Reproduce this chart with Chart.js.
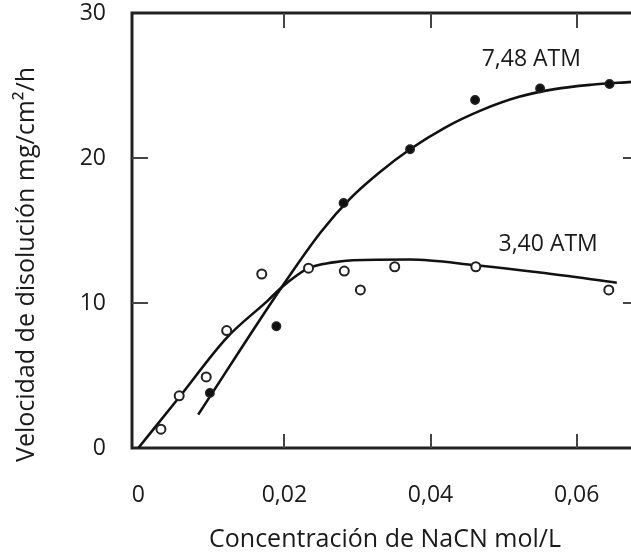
<!DOCTYPE html>
<html>
<head>
<meta charset="utf-8">
<script src="https://cdn.jsdelivr.net/npm/chart.js@4/dist/chart.umd.min.js"></script>
<style>
  html, body { margin: 0; padding: 0; background: #fff; overflow: hidden; }
  #wrap { width: 645px; height: 555px; }
</style>
</head>
<body>
<div id="wrap"><canvas id="c" width="645" height="555"></canvas></div>
<script>
// Measured points: NaCN concentration (mol/L) vs dissolution rate (mg/cm²/h)
const lowPressureX  = [0.0031, 0.0056, 0.0093, 0.0121, 0.0169, 0.0233, 0.0282, 0.0304, 0.0351, 0.0462, 0.0644];
const lowPressureY  = [1.3, 3.6, 4.9, 8.1, 12.0, 12.4, 12.2, 10.9, 12.5, 12.5, 10.9];
const highPressureX = [0.0098, 0.0189, 0.0281, 0.0372, 0.0461, 0.0550, 0.0645];
const highPressureY = [3.8, 8.4, 16.9, 20.6, 24.0, 24.8, 25.1];

// Smoothed trend curves through each series
const lowFitX  = [0, 0.0056, 0.0121, 0.0178, 0.0196, 0.0233, 0.0267, 0.0294, 0.0372, 0.0462, 0.0550, 0.0655];
const lowFitY  = [0, 3.5, 7.6, 10.2, 11.07, 12.4, 12.8, 12.95, 13.0, 12.6, 12.1, 11.4];
const highFitX = [0.0082, 0.0196, 0.0250, 0.0290, 0.0330, 0.0372, 0.0420, 0.0470, 0.0520, 0.0570, 0.0620, 0.0675];
const highFitY = [2.3, 11.07, 14.9, 17.2, 19.0, 20.6, 22.1, 23.3, 24.2, 24.75, 25.05, 25.25];

const seriesNames = ['3,40 ATM', '7,48 ATM'];
const xTickValues = [0, 0.02, 0.04, 0.06];
const yTickValues = [0, 10, 20, 30];
const xTitle = 'Concentración de NaCN mol/L';
const yTitle = 'Velocidad de disolución mg/cm²/h';

const FONT = "'Open Sans', sans-serif";
const INK = '#1a1a1a';

const pts = (xs, ys) => xs.map((x, i) => ({ x, y: ys[i] }));
const fmtX = v => (v === 0 ? '0' : v.toFixed(2).replace('.', ','));

// Series captions anchored in data coordinates (centre of text)
const seriesLabelAt = [
  { text: seriesNames[1], x: 0.0538, y: 26.8 },
  { text: seriesNames[0], x: 0.0561, y: 14.05 }
];

// Box frame with inward tick marks on all four sides
const framePlugin = {
  id: 'frame',
  beforeDatasetsDraw(chart) {
    const { ctx, chartArea: a, scales: { x, y } } = chart;
    ctx.save();
    ctx.strokeStyle = '#222';
    ctx.lineWidth = 3;
    ctx.strokeRect(a.left, a.top, a.right - a.left, a.bottom - a.top);
    ctx.lineWidth = 2;
    ctx.strokeStyle = '#444';
    ctx.beginPath();
    xTickValues.filter(v => v > 0).forEach(v => {
      const px = Math.round(x.getPixelForValue(v));
      ctx.moveTo(px, a.bottom); ctx.lineTo(px, a.bottom - 14);
      ctx.moveTo(px, a.top); ctx.lineTo(px, a.top + 15);
    });
    yTickValues.filter(v => v > 0 && v < 30).forEach(v => {
      const py = Math.round(y.getPixelForValue(v));
      ctx.moveTo(a.left, py); ctx.lineTo(a.left + 16, py);
      ctx.moveTo(a.right, py); ctx.lineTo(a.right - 15, py);
    });
    ctx.stroke();
    ctx.restore();
  }
};

// Series captions and the rotated y-axis title
const textPlugin = {
  id: 'texts',
  afterDraw(chart) {
    const { ctx, chartArea: a, scales: { x, y } } = chart;
    ctx.save();
    ctx.fillStyle = INK;
    ctx.font = `23px ${FONT}`;
    ctx.textAlign = 'center';
    ctx.textBaseline = 'middle';
    seriesLabelAt.forEach(l => {
      ctx.fillText(l.text, x.getPixelForValue(l.x), y.getPixelForValue(l.y));
    });
    ctx.font = `25px ${FONT}`;
    ctx.translate(a.left - 105, (a.top + a.bottom) / 2 + 34);
    ctx.rotate(-Math.PI / 2);
    ctx.fillText(yTitle, 0, 0);
    ctx.restore();
  }
};

new Chart(document.getElementById('c'), {
  data: {
    datasets: [
      {
        type: 'scatter', label: seriesNames[0], data: pts(lowPressureX, lowPressureY),
        pointStyle: 'circle', pointRadius: 4.5, pointBorderWidth: 2,
        pointBackgroundColor: '#fff', pointBorderColor: '#222', order: 1
      },
      {
        type: 'scatter', label: seriesNames[1], data: pts(highPressureX, highPressureY),
        pointStyle: 'circle', pointRadius: 4.2, pointBorderWidth: 1.5,
        pointBackgroundColor: '#111', pointBorderColor: '#222', order: 1
      },
      {
        type: 'line', label: seriesNames[0] + ' ajuste', data: pts(lowFitX, lowFitY),
        borderColor: '#111', borderWidth: 2.6, pointRadius: 0, fill: false,
        cubicInterpolationMode: 'monotone', order: 2
      },
      {
        type: 'line', label: seriesNames[1] + ' ajuste', data: pts(highFitX, highFitY),
        borderColor: '#111', borderWidth: 2.6, pointRadius: 0, fill: false,
        cubicInterpolationMode: 'monotone', order: 2
      }
    ]
  },
  options: {
    responsive: false,
    devicePixelRatio: 1,
    animation: false,
    layout: { padding: { top: 13, right: 7, left: 0, bottom: 0 } },
    plugins: { legend: { display: false }, tooltip: { enabled: false } },
    scales: {
      x: {
        type: 'linear', min: -0.00086, max: 0.0684,
        afterBuildTicks: s => { s.ticks = xTickValues.map(v => ({ value: v })); },
        afterFit: s => { s.height = 107; s.paddingLeft = 0; s.paddingRight = 0; },
        grid: { display: false, drawTicks: false },
        border: { display: false },
        ticks: { callback: fmtX, padding: 34, color: INK, font: { family: FONT, size: 23 }, maxRotation: 0 },
        title: { display: true, text: xTitle, color: INK, font: { family: FONT, size: 25 }, padding: { top: 0, bottom: 0 } }
      },
      y: {
        type: 'linear', min: 0, max: 30,
        afterBuildTicks: s => { s.ticks = yTickValues.map(v => ({ value: v })); },
        afterFit: s => { s.width = 132; s.paddingTop = 0; s.paddingBottom = 0; },
        grid: { display: false, drawTicks: false },
        border: { display: false },
        ticks: { padding: 26, color: INK, font: { family: FONT, size: 23 } }
      }
    }
  },
  plugins: [framePlugin, textPlugin]
});
</script>
</body>
</html>
